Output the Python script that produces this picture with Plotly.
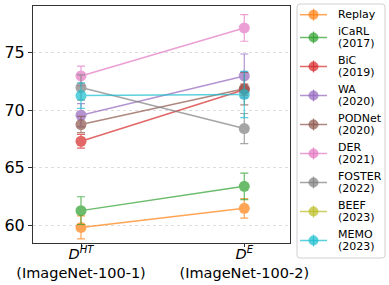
import plotly.graph_objects as go

categories = ["<i>D</i><sup><i>HT</i></sup><br>(ImageNet-100-1)",
              "<i>D</i><sup><i>E</i></sup><br>(ImageNet-100-2)"]
methods = ["Replay", "iCaRL", "BiC", "WA", "PODNet", "DER", "FOSTER", "BEEF", "MEMO"]
years = ["", "(2017)", "(2019)", "(2020)", "(2020)", "(2021)", "(2022)", "(2023)", "(2023)"]
means = [
    [59.85, 61.5],
    [61.3, 63.4],
    [67.3, 71.75],
    [69.55, 72.95],
    [68.75, 71.85],
    [72.95, 77.1],
    [71.95, 68.4],
    [None, None],
    [71.25, 71.35],
]
stds = [
    [1.0, 0.85],
    [1.2, 1.15],
    [0.6, 0.5],
    [1.0, 1.9],
    [0.7, 1.4],
    [0.85, 1.15],
    [1.1, 1.3],
    [None, None],
    [1.1, 2.0],
]
colors = ["#ff7f0e", "#2ca02c", "#d62728", "#9467bd", "#8c564b",
          "#e377c2", "#7f7f7f", "#bcbd22", "#17becf"]
yticks = [60, 65, 70, 75]

W, H = 389, 285
L, R, T, B = 33, 290, 6, 243


def px(x):
    return (x - L) / (R - L)


def py(y):
    return (B - y) / (B - T)


fig = go.Figure()
for name, yr, m, s, c in zip(methods, years, means, stds, colors):
    fig.add_trace(go.Scatter(
        x=[0, 1], y=m, name=(name + (" " + yr if yr else "")), mode="lines+markers",
        line=dict(color=c, width=1.5),
        marker=dict(color=c, size=11),
        error_y=dict(type="data", array=s, visible=True, color=c, thickness=1.2, width=4),
        opacity=0.7, showlegend=False,
    ))

# manual legend (matplotlib-like layout)
shapes = []
annotations = []
bx0, bx1, by0, by1, rad = 297, 385, 4, 258, 3
shapes.append(dict(
    type="path", xref="paper", yref="paper",
    path=(f"M {px(bx0 + rad)},{py(by0)} L {px(bx1 - rad)},{py(by0)} "
          f"Q {px(bx1)},{py(by0)} {px(bx1)},{py(by0 + rad)} "
          f"L {px(bx1)},{py(by1 - rad)} Q {px(bx1)},{py(by1)} {px(bx1 - rad)},{py(by1)} "
          f"L {px(bx0 + rad)},{py(by1)} Q {px(bx0)},{py(by1)} {px(bx0)},{py(by1 - rad)} "
          f"L {px(bx0)},{py(by0 + rad)} Q {px(bx0)},{py(by0)} {px(bx0 + rad)},{py(by0)} Z"),
    line=dict(color="#d0d0d0", width=1), fillcolor="white", layer="above",
))
for i, (name, yr, c) in enumerate(zip(methods, years, colors)):
    cy = 14.7 if i == 0 else 37.5 + (i - 1) * 29
    shapes.append(dict(type="line", xref="paper", yref="paper",
                       x0=px(300), x1=px(327), y0=py(cy), y1=py(cy),
                       line=dict(color=c, width=1.5), opacity=0.7, layer="above"))
    shapes.append(dict(type="line", xref="paper", yref="paper",
                       x0=px(313.5), x1=px(313.5), y0=py(cy - 6), y1=py(cy + 6),
                       line=dict(color=c, width=1.2), opacity=0.7, layer="above"))
    shapes.append(dict(type="circle", xref="paper", yref="paper",
                       x0=px(308.5), x1=px(318.5), y0=py(cy - 5), y1=py(cy + 5),
                       line=dict(color=c, width=0), fillcolor=c, opacity=0.7, layer="above"))
    if yr:
        lines = [(name, cy - 5.8), (yr, cy + 5.8)]
    else:
        lines = [(name, cy)]
    for txt, ty in lines:
        annotations.append(dict(
            text=txt, xref="paper", yref="paper", x=px(336), y=py(ty),
            xanchor="left", yanchor="middle", showarrow=False,
            font=dict(size=11, family="DejaVu Sans", color="black"),
        ))

fig.update_layout(
    width=W, height=H,
    margin=dict(l=L, r=W - R, t=T, b=H - B, autoexpand=False),
    plot_bgcolor="white", paper_bgcolor="white",
    font=dict(family="DejaVu Sans", color="black", size=11),
    showlegend=False, hovermode=False,
    shapes=shapes, annotations=annotations,
)
fig.update_xaxes(
    tickvals=[0, 1], ticktext=categories, range=[-0.294, 1.28],
    showline=True, linecolor="#333", mirror=True, linewidth=1,
    showgrid=False, ticks="outside", ticklen=3, tickcolor="#333",
    tickfont=dict(size=14.5), zeroline=False, ticklabelstandoff=-5,
)
fig.update_yaxes(
    tickvals=yticks, range=[58.5, 79.0],
    showline=True, linecolor="#333", mirror=True, linewidth=1,
    showgrid=True, gridcolor="#dddddd", griddash="dot", gridwidth=1,
    ticks="outside", ticklen=4, tickcolor="#333",
    tickfont=dict(size=16), zeroline=False,
)
fig.write_html("out.html", config={"displayModeBar": False},
               post_script="document.body.style.margin='0px';")
